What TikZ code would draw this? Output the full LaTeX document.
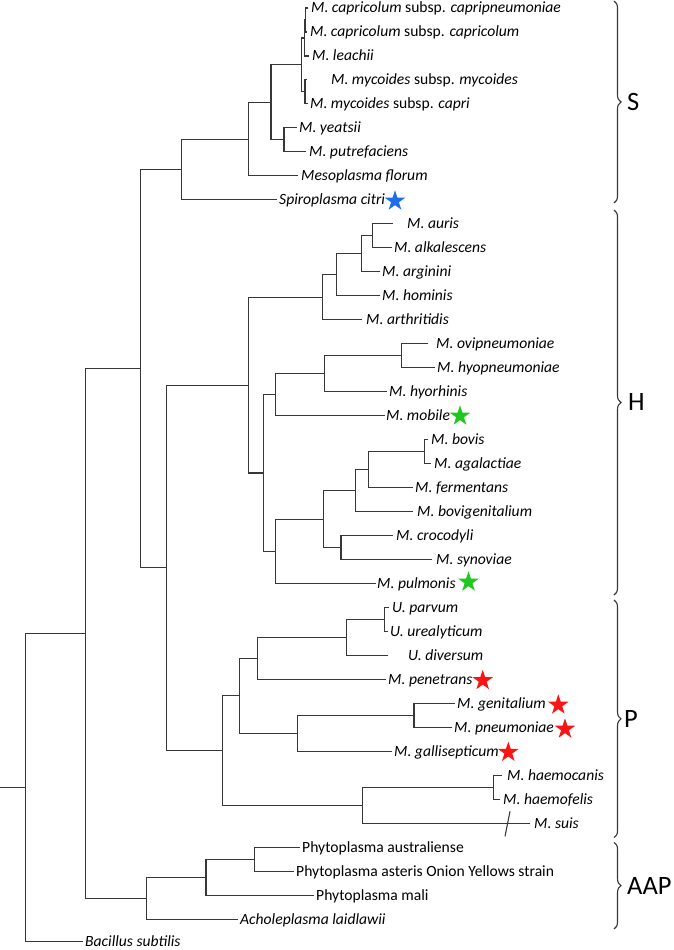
\documentclass[tikz,border=0pt]{standalone}
\usepackage{fontspec}
\setmainfont{Carlito}
\usetikzlibrary{shapes.geometric,decorations.pathreplacing}
\definecolor{sblue}{RGB}{30,110,235}
\definecolor{sgreen}{RGB}{30,200,30}
\definecolor{sred}{RGB}{250,20,20}
\definecolor{brc}{RGB}{55,55,55}
\begin{document}
\begin{tikzpicture}[x=1pt,y=-1pt,
  br/.style={draw=brc,line width=1.1pt},
  leaf/.style={anchor=west,inner sep=0pt,text height=10pt,text depth=0pt,font=\fontsize{15.6}{18}\selectfont},
  ileaf/.style={leaf,font=\fontsize{15.6}{18}\selectfont\itshape},
  star5/.style={star,star points=5,star point ratio=2.6,minimum size=21.5pt,inner sep=0pt,draw=none},
  clade/.style={anchor=west,inner sep=0pt,text height=16.7pt,text depth=0pt,font=\fontsize{26.5}{30}\selectfont},
  bracestyle/.style={draw=brc,line width=1.1pt,decorate,decoration={brace,amplitude=7pt}}]
\useasboundingbox (0,0) rectangle (674,950);

% ---------- leaves: branch tips and labels ----------
\coordinate (t0) at (308,8);      \node[leaf] (L0) at (311,8) {\textit{M. capricolum} subsp. \textit{capripneumoniae}};
\coordinate (t1) at (307,31.98);  \node[leaf] (L1) at (310,31.98) {\textit{M. capricolum} subsp. \textit{capricolum}};
\coordinate (t2) at (309,55.96);  \node[ileaf] (L2) at (312,55.96) {M. leachii};
\coordinate (t3) at (307,79.94);  \node[leaf] (L3) at (331,79.94) {\textit{M. mycoides} subsp. \textit{mycoides}};
\coordinate (t4) at (308,103.92); \node[leaf] (L4) at (310,103.92) {\textit{M. mycoides} subsp. \textit{capri}};
\coordinate (t5) at (297,127.9);  \node[ileaf] (L5) at (299,127.9) {M. yeatsii};
\coordinate (t6) at (306,151.88); \node[ileaf] (L6) at (309,151.88) {M. putrefaciens};
\coordinate (t7) at (298,175.86); \node[ileaf] (L7) at (301,175.86) {Mesoplasma florum};
\coordinate (t8) at (277,199.84); \node[ileaf] (L8) at (279,199.84) {Spiroplasma citri};
\coordinate (t9) at (393,223.82); \node[ileaf] (L9) at (407,223.82) {M. auris};
\coordinate (t10) at (392,247.8); \node[ileaf] (L10) at (394,247.8) {M. alkalescens};
\coordinate (t11) at (380,271.78); \node[ileaf] (L11) at (382,271.78) {M. arginini};
\coordinate (t12) at (380,295.76); \node[ileaf] (L12) at (382,295.76) {M. hominis};
\coordinate (t13) at (362,319.74); \node[ileaf] (L13) at (366,319.74) {M. arthritidis};
\coordinate (t14) at (428,343.72); \node[ileaf] (L14) at (436,343.72) {M. ovipneumoniae};
\coordinate (t15) at (435,367.7); \node[ileaf] (L15) at (437,367.7) {M. hyopneumoniae};
\coordinate (t16) at (387,391.68); \node[ileaf] (L16) at (389,391.68) {M. hyorhinis};
\coordinate (t17) at (385,415.66); \node[ileaf] (L17) at (386,415.66) {M. mobile};
\coordinate (t18) at (428,439.64); \node[ileaf] (L18) at (431,439.64) {M. bovis};
\coordinate (t19) at (431,463.62); \node[ileaf] (L19) at (434,463.62) {M. agalactiae};
\coordinate (t20) at (413,487.6); \node[ileaf] (L20) at (415,487.6) {M. fermentans};
\coordinate (t21) at (413,511.58); \node[ileaf] (L21) at (417,511.58) {M. bovigenitalium};
\coordinate (t22) at (393,535.56); \node[ileaf] (L22) at (396,535.56) {M. crocodyli};
\coordinate (t23) at (432,559.54); \node[ileaf] (L23) at (436,559.54) {M. synoviae};
\coordinate (t24) at (376,583.52); \node[ileaf] (L24) at (377,583.52) {M. pulmonis};
\coordinate (t25) at (389,607.5); \node[ileaf] (L25) at (392,607.5) {U. parvum};
\coordinate (t26) at (388,631.48); \node[ileaf] (L26) at (390,631.48) {U. urealyticum};
\coordinate (t27) at (388,655.46); \node[ileaf] (L27) at (408,655.46) {U. diversum};
\coordinate (t28) at (386,679.44); \node[ileaf] (L28) at (388,679.44) {M. penetrans};
\coordinate (t29) at (455,703.42); \node[ileaf] (L29) at (457,703.42) {M. genitalium};
\coordinate (t30) at (452,727.4); \node[ileaf] (L30) at (454,727.4) {M. pneumoniae};
\coordinate (t31) at (392,751.38); \node[ileaf] (L31) at (394,751.38) {M. gallisepticum};
\coordinate (t32) at (502,775.36); \node[ileaf] (L32) at (507,775.36) {M. haemocanis};
\coordinate (t33) at (500,799.34); \node[ileaf] (L33) at (503,799.34) {M. haemofelis};
\coordinate (t34) at (530,823.32); \node[ileaf] (L34) at (534,823.32) {M. suis};
\coordinate (t35) at (300,847.3); \node[leaf] (L35) at (302,847.3) {Phytoplasma australiense};
\coordinate (t36) at (294,871.28); \node[leaf] (L36) at (296,871.28) {Phytoplasma asteris Onion Yellows strain};
\coordinate (t37) at (314,895.26); \node[leaf] (L37) at (316,895.26) {Phytoplasma mali};
\coordinate (t38) at (238,919.24); \node[ileaf] (L38) at (240,919.24) {Acholeplasma laidlawii};
\coordinate (t39) at (83,941.8); \node[ileaf] (L39) at (85,941.8) {Bacillus subtilis};

% ---------- internal nodes ----------
\coordinate (c1) at (305.8,19.99);
\coordinate (c2) at (304.5,37.98);
\coordinate (c3) at (305,91.93);
\coordinate (c4) at (301.7,64.95);
\coordinate (c5) at (284,139.89);
\coordinate (c6) at (271,102.42);
\coordinate (c7) at (248.5,139.14);
\coordinate (c8) at (181.7,169.49);
\coordinate (h1) at (372.3,235.81);
\coordinate (h2) at (361.7,253.8);
\coordinate (h3) at (336.7,274.78);
\coordinate (h4) at (322.3,297.26);
\coordinate (h5) at (401.7,355.71);
\coordinate (h6) at (324.3,373.7);
\coordinate (h7) at (275.7,394.68);
\coordinate (h8) at (424.3,451.63);
\coordinate (h9) at (368.3,469.62);
\coordinate (h10) at (355.7,490.6);
\coordinate (h11) at (341,547.55);
\coordinate (h12) at (323.3,519.08);
\coordinate (h13) at (275.7,551.3);
\coordinate (h14) at (263.3,472.99);
\coordinate (h15) at (248.5,385.13);
\coordinate (p1) at (384.3,619.49);
\coordinate (p2) at (346.7,637.48);
\coordinate (p3) at (257.3,658.46);
\coordinate (p4) at (414,715.41);
\coordinate (p5) at (297.7,733.4);
\coordinate (p6) at (239.3,695.93);
\coordinate (p7) at (493.3,787.35);
\coordinate (p8) at (362.3,805.34);
\coordinate (p9) at (222.7,750.64);
\coordinate (hp) at (166.7,567.89);
\coordinate (m1) at (140.7,368.69);
\coordinate (a1) at (254.3,859.29);
\coordinate (a2) at (206,877.28);
\coordinate (a3) at (146.3,898.26);
\coordinate (m2) at (85.7,633.48);
\coordinate (root) at (25.3,787.6);
\coordinate (stem) at (0,787.6);

% ---------- branches ----------
\draw[br] (c1) |- (t0); \draw[br] (c1) |- (t1);
\draw[br] (c2) |- (c1); \draw[br] (c2) |- (t2);
\draw[br] (c3) |- (t3); \draw[br] (c3) |- (t4);
\draw[br] (c4) |- (c2); \draw[br] (c4) |- (c3);
\draw[br] (c5) |- (t5); \draw[br] (c5) |- (t6);
\draw[br] (c6) |- (c4); \draw[br] (c6) |- (c5);
\draw[br] (c7) |- (c6); \draw[br] (c7) |- (t7);
\draw[br] (c8) |- (c7); \draw[br] (c8) |- (t8);

\draw[br] (h1) |- (t9); \draw[br] (h1) |- (t10);
\draw[br] (h2) |- (h1); \draw[br] (h2) |- (t11);
\draw[br] (h3) |- (h2); \draw[br] (h3) |- (t12);
\draw[br] (h4) |- (h3); \draw[br] (h4) |- (t13);
\draw[br] (h5) |- (t14); \draw[br] (h5) |- (t15);
\draw[br] (h6) |- (h5); \draw[br] (h6) |- (t16);
\draw[br] (h7) |- (h6); \draw[br] (h7) |- (t17);
\draw[br] (h8) |- (t18); \draw[br] (h8) |- (t19);
\draw[br] (h9) |- (h8); \draw[br] (h9) |- (t20);
\draw[br] (h10) |- (h9); \draw[br] (h10) |- (t21);
\draw[br] (h11) |- (t22); \draw[br] (h11) |- (t23);
\draw[br] (h12) |- (h10); \draw[br] (h12) |- (h11);
\draw[br] (h13) |- (h12); \draw[br] (h13) |- (t24);
\draw[br] (h14) |- (h7); \draw[br] (h14) |- (h13);
\draw[br] (h15) |- (h4); \draw[br] (h15) |- (h14);

\draw[br] (p1) |- (t25); \draw[br] (p1) |- (t26);
\draw[br] (p2) |- (p1); \draw[br] (p2) |- (t27);
\draw[br] (p3) |- (p2); \draw[br] (p3) |- (t28);
\draw[br] (p4) |- (t29); \draw[br] (p4) |- (t30);
\draw[br] (p5) |- (p4); \draw[br] (p5) |- (t31);
\draw[br] (p6) |- (p3); \draw[br] (p6) |- (p5);
\draw[br] (p7) |- (t32); \draw[br] (p7) |- (t33);
\draw[br] (p8) |- (p7); \draw[br] (p8) |- (t34);
\draw[br] (p9) |- (p6); \draw[br] (p9) |- (p8);
\draw[br] (hp) |- (h15); \draw[br] (hp) |- (p9);
\draw[br] (m1) |- (c8); \draw[br] (m1) |- (hp);

\draw[br] (a1) |- (t35); \draw[br] (a1) |- (t36);
\draw[br] (a2) |- (a1); \draw[br] (a2) |- (t37);
\draw[br] (a3) |- (a2); \draw[br] (a3) |- (t38);
\draw[br] (m2) |- (m1); \draw[br] (m2) |- (a3);
\draw[br] (root) |- (m2); \draw[br] (root) |- (t39);
\draw[br] (stem) -- (root);

% break mark on the M. suis branch
\coordinate (brk) at (507.5,823.32);
\draw[br] (brk) ++(-2.5,13) -- ++(5,-25);

% ---------- stars ----------
\node[star5,fill=sblue] (s8) at (395,201) {};
\node[star5,fill=sgreen] (s17) at (460,416) {};
\node[star5,fill=sgreen] (s24) at (468.5,582) {};
\node[star5,fill=sred] (s28) at (482.7,680.5) {};
\node[star5,fill=sred] (s29) at (558.3,705) {};
\node[star5,fill=sred] (s30) at (565,729) {};
\node[star5,fill=sred] (s31) at (508.3,752.3) {};

% ---------- clade braces ----------
\coordinate (bS1) at (614,1);   \coordinate (bS2) at (614,203);
\coordinate (bH1) at (614,210); \coordinate (bH2) at (614,595);
\coordinate (bP1) at (614,600); \coordinate (bP2) at (614,837.7);
\coordinate (bA1) at (614,842.3); \coordinate (bA2) at (614,929);
\draw[bracestyle] (bS1) -- (bS2);
\draw[bracestyle] (bH1) -- (bH2);
\draw[bracestyle] (bP1) -- (bP2);
\draw[bracestyle] (bA1) -- (bA2);
\node[clade] (S) at (627,102) {S};
\node[clade] (H) at (628,402.5) {H};
\node[clade] (P) at (624,718.8) {P};
\node[clade] (AAP) at (627,885.7) {AAP};
\end{tikzpicture}
\end{document}
